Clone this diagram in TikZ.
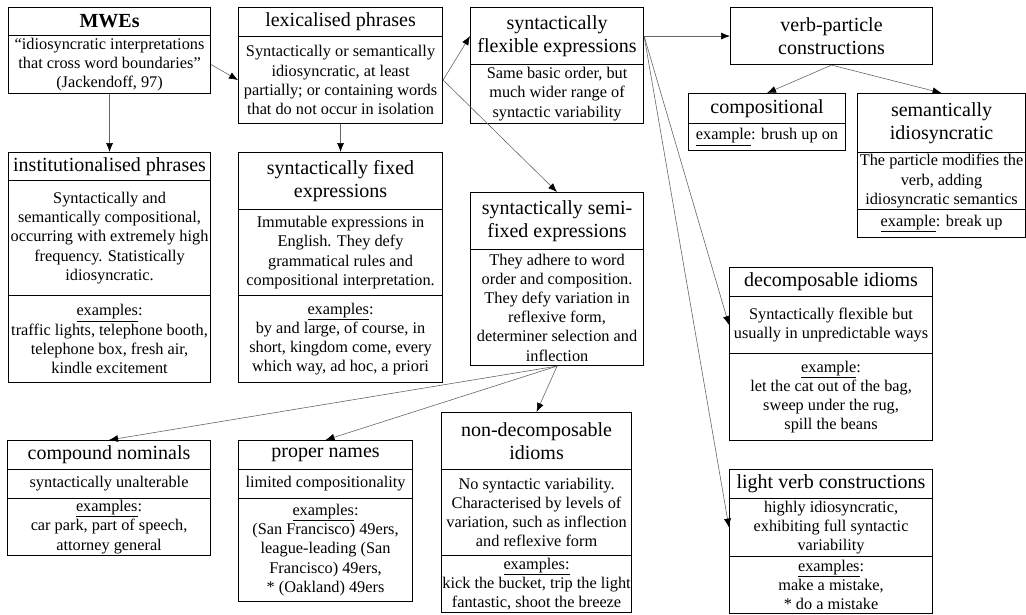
\documentclass[tikz,border=0pt]{standalone}
\usepackage{fontspec}
\setmainfont{Liberation Serif}
\usetikzlibrary{arrows.meta,positioning,calc}

\begin{document}
\begin{tikzpicture}[x=1pt,y=-1pt,>={Latex[length=9pt,width=7pt,color=black]},
  part/.style={draw,line width=1.1pt,anchor=north west,inner sep=1pt,align=center,
    font=\fontsize{16.3}{19.2}\selectfont},
  head/.style={part,font=\fontsize{20}{23.5}\selectfont},
  link/.style={->,line width=0.6pt,black!60}]
  \useasboundingbox (0,0) rectangle (1026,614);

  % top row
  \node[head,font=\bfseries\fontsize{20}{23.5}\selectfont,minimum width=202pt,minimum height=28pt] (mweT) at (8,7) {MWEs};
  \node[part,minimum width=202pt,minimum height=58pt] (mweB) at (8,35)
    {“idiosyncratic interpretations\\that cross word boundaries”\\(Jackendoff, 97)};
  \node[head,minimum width=204pt,minimum height=29pt] (lexT) at (238,7) {lexicalised phrases};
  \node[part,minimum width=204pt,minimum height=87pt] (lexB) at (238,36)
    {Syntactically or semantically\\idiosyncratic, at least\\partially; or containing words\\that do not occur in isolation};
  \node[head,minimum width=173pt,minimum height=57pt] (flexT) at (470,7) {syntactically\\flexible expressions};
  \node[part,minimum width=173pt,minimum height=59pt] (flexB) at (470,64)
    {Same basic order, but\\much wider range of\\syntactic variability};
  \node[head,minimum width=202pt,minimum height=57pt] (vpc) at (730,7) {verb-particle\\constructions};
  \node[head,minimum width=157pt,minimum height=30pt] (compT) at (688,93) {compositional};
  \node[part,minimum width=157pt,minimum height=27pt] (compB) at (688,123) {\underline{example}: brush up on};
  \node[head,minimum width=168pt,minimum height=59pt] (semidT) at (857,93) {semantically\\idiosyncratic};
  \node[part,minimum width=168pt,minimum height=57pt] (semidD) at (857,152)
    {The particle modifies the\\verb, adding\\idiosyncratic semantics};
  \node[part,minimum width=168pt,minimum height=28pt] (semidE) at (857,209) {\underline{example}: break up};

  % middle row
  \node[head,minimum width=202pt,minimum height=28pt] (instT) at (8,152) {institutionalised phrases};
  \node[part,minimum width=202pt,minimum height=115pt] (instD) at (8,180)
    {Syntactically and\\semantically compositional,\\occurring with extremely high\\frequency. Statistically\\idiosyncratic.};
  \node[part,minimum width=202pt,minimum height=87pt] (instE) at (8,295)
    {\underline{examples}:\\traffic lights, telephone booth,\\telephone box, fresh air,\\kindle excitement};
  \node[head,minimum width=204pt,minimum height=57pt] (fixedT) at (238,152) {syntactically fixed\\expressions};
  \node[part,minimum width=204pt,minimum height=86pt] (fixedD) at (238,209)
    {Immutable expressions in\\English. They defy\\grammatical rules and\\compositional interpretation.};
  \node[part,minimum width=204pt,minimum height=87pt] (fixedE) at (238,295)
    {\underline{examples}:\\by and large, of course, in\\short, kingdom come, every\\which way, ad hoc, a priori};
  \node[head,minimum width=173pt,minimum height=57pt] (semiT) at (470,192) {syntactically semi-\\fixed expressions};
  \node[part,minimum width=173pt,minimum height=116pt] (semiB) at (470,249)
    {They adhere to word\\order and composition.\\They defy variation in\\reflexive form,\\determiner selection and\\inflection};
  \node[head,minimum width=203pt,minimum height=29pt] (decompT) at (729,267) {decomposable idioms};
  \node[part,minimum width=203pt,minimum height=57pt] (decompD) at (729,296)
    {Syntactically flexible but\\usually in unpredictable ways};
  \node[part,minimum width=203pt,minimum height=87pt] (decompE) at (729,353)
    {\underline{example}:\\let the cat out of the bag,\\sweep under the rug,\\spill the beans};

  % bottom row
  \node[head,minimum width=203pt,minimum height=29pt] (cnomT) at (7,440) {compound nominals};
  \node[part,minimum width=203pt,minimum height=29pt] (cnomD) at (7,469) {syntactically unalterable};
  \node[part,minimum width=203pt,minimum height=57pt] (cnomE) at (7,498)
    {\underline{examples}:\\car park, part of speech,\\attorney general};
  \node[head,minimum width=174pt,minimum height=29pt] (pnT) at (238,440) {proper names};
  \node[part,minimum width=174pt,minimum height=29pt] (pnD) at (238,469) {limited compositionality};
  \node[part,minimum width=174pt,minimum height=103pt] (pnE) at (238,498)
    {\underline{examples}:\\(San Francisco) 49ers,\\league-leading (San\\Francisco) 49ers,\\* (Oakland) 49ers};
  \node[head,minimum width=190pt,minimum height=57pt] (nondecT) at (441,412) {non-decomposable\\idioms};
  \node[part,minimum width=190pt,minimum height=86pt] (nondecD) at (441,469)
    {No syntactic variability.\\Characterised by levels of\\variation, such as inflection\\and reflexive form};
  \node[part,inner sep=0pt,minimum width=190pt,minimum height=57pt] (nondecE) at (441,555)
    {\underline{examples:}\\kick the bucket, trip the light\\fantastic, shoot the breeze};
  \node[head,minimum width=203pt,minimum height=29pt] (lvcT) at (729,469) {light verb constructions};
  \node[part,minimum width=203pt,minimum height=58pt] (lvcD) at (729,498)
    {highly idiosyncratic,\\exhibiting full syntactic\\variability};
  \node[part,minimum width=203pt,minimum height=57pt] (lvcE) at (729,556)
    {\underline{examples}:\\make a mistake,\\* do a mistake};

  % connectors
  \draw[link] (mweB.south) -- (instT.north);
  \draw[link] (mweB.east) -- (lexB.west);
  \draw[link] (lexB.south) -- (fixedT.north);
  \draw[link] (lexB.east) -- (flexT.west);
  \draw[link] (lexB.east) -- (semiT.north);
  \draw[link] (flexT.east) -- (vpc.west);
  \draw[link] (vpc.south) -- (compT.north);
  \draw[link] (vpc.south) -- (semidT.north);
  \draw[link] (flexT.east) -- (decompD.west);
  \draw[link] (flexT.east) -- (lvcD.west);
  \draw[link] (semiB.south) -- (cnomT.north);
  \draw[link] (semiB.south) -- (pnT.north);
  \draw[link] (semiB.south) -- (nondecT.north);
\end{tikzpicture}
\end{document}
